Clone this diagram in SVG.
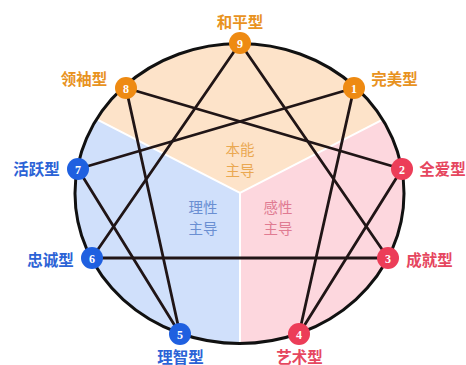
<svg xmlns="http://www.w3.org/2000/svg" width="466" height="365" viewBox="0 0 466 365">
<style>
.lbl{font-family:"Noto Sans CJK SC","Noto Sans",sans-serif;font-size:15.5px;font-weight:bold;text-anchor:middle;dominant-baseline:central}
.ctr{font-family:"Noto Sans CJK SC","Noto Sans",sans-serif;font-size:14.5px;text-anchor:middle;dominant-baseline:central}
.num{font-family:"Liberation Serif","DejaVu Serif",serif;font-size:12px;font-weight:bold;fill:#fff;text-anchor:middle;dominant-baseline:central}
.o{fill:#ee8a12}.b{fill:#1f60e0}.r{fill:#ec3d58}
.to{fill:#e8931f}.tb{fill:#2c63d6}.tr{fill:#e6475f}
.conn line{stroke:#201516;stroke-width:2.8;stroke-linecap:round}
</style>
<defs>
<clipPath id="ec"><ellipse cx="239.5" cy="193.5" rx="164.5" ry="150"/></clipPath>
</defs>
<rect width="466" height="365" fill="#fff"/>
<g id="sectors" clip-path="url(#ec)">
<path d="M240,193 L-36,51 L-36,-10 L516,-10 L516,51 Z" fill="#fde3c9"/>
<path d="M240,193 L-36,51 L-36,400 L240,400 Z" fill="#d0e0fb"/>
<path d="M240,193 L516,51 L516,400 L240,400 Z" fill="#fdd7de"/>
<path d="M-36,51 L240,193 L516,51 M240,193 L240,400" fill="none" stroke="#fff" stroke-width="2"/>
</g>
<ellipse id="outline" cx="239.5" cy="193.5" rx="164.5" ry="150" fill="none" stroke="#111" stroke-width="3"/>
<g id="centers">
<text class="ctr" x="240" y="148.5" fill="#eaa851">本能</text>
<text class="ctr" x="240" y="169.5" fill="#eaa851">主导</text>
<text class="ctr" x="203" y="206.5" fill="#6a8fd2">理性</text>
<text class="ctr" x="203" y="227.5" fill="#6a8fd2">主导</text>
<text class="ctr" x="278" y="206.5" fill="#e07b92">感性</text>
<text class="ctr" x="278" y="227.5" fill="#e07b92">主导</text>
</g>
<g id="connectors" class="conn">
<line x1="240" y1="43" x2="92" y2="258"/>
<line x1="240" y1="43" x2="388" y2="258"/>
<line x1="92" y1="258" x2="388" y2="258"/>
<line x1="354" y1="88" x2="299" y2="334"/>
<line x1="299" y1="334" x2="402" y2="169"/>
<line x1="402" y1="169" x2="126" y2="88"/>
<line x1="126" y1="88" x2="180" y2="334"/>
<line x1="180" y1="334" x2="78" y2="169"/>
<line x1="78" y1="169" x2="354" y2="88"/>
</g>
<g id="n9"><circle class="o" cx="240" cy="43" r="11"/><text class="num" x="240" y="43.5">9</text><text class="lbl to" x="240" y="21">和平型</text></g>
<g id="n8"><circle class="o" cx="126" cy="88" r="11"/><text class="num" x="126" y="88.5">8</text><text class="lbl to" x="84" y="78">领袖型</text></g>
<g id="n1"><circle class="o" cx="354" cy="88" r="11"/><text class="num" x="354" y="88.5">1</text><text class="lbl to" x="394.5" y="78">完美型</text></g>
<g id="n7"><circle class="b" cx="78" cy="169" r="11"/><text class="num" x="78" y="169.5">7</text><text class="lbl tb" x="36.5" y="168">活跃型</text></g>
<g id="n2"><circle class="r" cx="402" cy="169" r="11"/><text class="num" x="402" y="169.5">2</text><text class="lbl tr" x="442.5" y="168">全爱型</text></g>
<g id="n6"><circle class="b" cx="92" cy="258" r="11"/><text class="num" x="92" y="258.5">6</text><text class="lbl tb" x="50.5" y="259">忠诚型</text></g>
<g id="n3"><circle class="r" cx="388" cy="258" r="11"/><text class="num" x="388" y="258.5">3</text><text class="lbl tr" x="429.5" y="259">成就型</text></g>
<g id="n5"><circle class="b" cx="180" cy="334" r="11"/><text class="num" x="180" y="334.5">5</text><text class="lbl tb" x="180.5" y="355.5">理智型</text></g>
<g id="n4"><circle class="r" cx="299" cy="334" r="11"/><text class="num" x="299" y="334.5">4</text><text class="lbl tr" x="299.5" y="355.5">艺术型</text></g>
</svg>
